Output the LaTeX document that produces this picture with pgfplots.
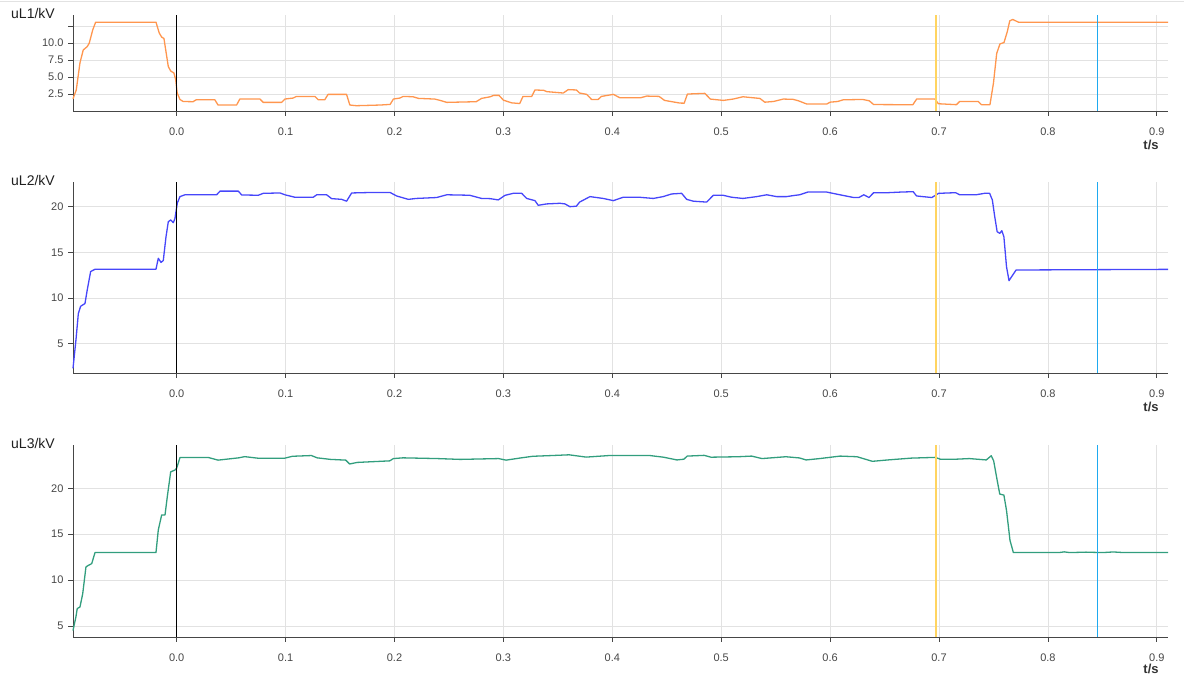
\documentclass[border=0pt]{standalone}
\usepackage{pgfplots}
\pgfplotsset{compat=1.18}
\usepackage{fontspec}
\setmainfont{Liberation Sans}
\definecolor{cOr}{RGB}{255,150,78}
\definecolor{cBl}{RGB}{70,70,250}
\definecolor{cGr}{RGB}{50,158,126}
\definecolor{cYe}{RGB}{255,212,96}
\definecolor{skyline}{RGB}{30,170,240}
\definecolor{cGrid}{RGB}{226,226,226}
\definecolor{cTick}{RGB}{70,70,70}
\pgfplotsset{
 base/.style={
  scale only axis, width=1095pt,
  xmin=-0.0952, xmax=0.9103,
  axis x line=bottom, axis y line=left,
  axis line style={-, color=cTick, line width=0.8pt},
  xtick={0,0.1,0.2,0.3,0.4,0.5,0.6,0.7,0.8,0.9},
  xticklabels={0.0,0.1,0.2,0.3,0.4,0.5,0.6,0.7,0.8,0.9},
  tick align=outside, major tick length=5pt,
  tick style={color=cTick, line width=0.8pt},
  grid=major, grid style={cGrid, line width=0.8pt},
  ticklabel style={font=\fontsize{11}{13}\selectfont, text=cTick},
  xticklabel style={yshift=-8pt},
  yticklabel style={xshift=-1pt},
  /pgf/number format/assume math mode=true,
  clip=false,
 },
}
\tikzset{
 curve/.style={line width=1.3pt, line join=round},
 ttl/.style={font=\fontsize{14}{16}\selectfont, text=black!88},
 tlab/.style={font=\bfseries\fontsize{13}{15}\selectfont, text=black!80},
}
\begin{document}
\begin{tikzpicture}[x=1pt,y=1pt]
\useasboundingbox (0,0) rectangle (1184,679);
\draw[cGrid, line width=0.8pt] (0,678) -- (1184,678);
% ---------------- uL1
\begin{axis}[base, at={(73pt,568pt)}, anchor=south west, height=96pt,
  ymin=0, ymax=14.16, ytick={2.5,5,7.5,10,12.5},
  yticklabels={2.5,5.0,7.5,10.0,}]
\addplot[curve, cOr] coordinates {
(-0.0952,1.8) (-0.0922,3.1) (-0.0888,7.1) (-0.0858,9.0) (-0.0821,9.5) (-0.0803,10.0)
(-0.0771,11.95) (-0.0744,13.1) (-0.0190,13.1) (-0.0160,11.5) (-0.0138,10.9) (-0.0117,10.7)
(-0.0077,6.56) (-0.0055,5.9) (-0.0025,5.6) (-0.0009,4.6) (0.0005,2.65) (0.003,1.7)
(0.006,1.4) (0.015,1.37) (0.018,1.66) (0.035,1.66) (0.038,0.88) (0.055,0.88)
(0.058,1.76) (0.0765,1.76) (0.0795,1.27) (0.0964,1.27) (0.0994,1.76) (0.107,1.91)
(0.110,2.15) (0.127,2.15) (0.130,1.66) (0.136,1.66) (0.139,2.45) (0.156,2.45)
(0.159,0.88) (0.165,0.78) (0.187,0.88) (0.196,0.97) (0.199,1.76) (0.205,1.91)
(0.208,2.15) (0.217,2.1) (0.222,1.86) (0.237,1.76) (0.242,1.56) (0.248,1.27)
(0.275,1.37) (0.280,1.86) (0.288,2.1) (0.291,2.3) (0.296,2.3) (0.300,1.6)
(0.3076,1.2) (0.315,1.1) (0.318,2.15) (0.326,2.15) (0.329,3.1) (0.337,3.05)
(0.340,2.85) (0.355,2.65) (0.3595,3.15) (0.367,3.1) (0.370,2.65) (0.3765,2.45)
(0.381,1.7) (0.387,1.7) (0.390,2.15) (0.401,2.45) (0.407,1.95) (0.426,1.95)
(0.4316,2.2) (0.443,2.15) (0.448,1.56) (0.462,1.17) (0.466,1.15) (0.469,2.5)
(0.485,2.6) (0.490,1.76) (0.502,1.56) (0.511,1.76) (0.520,2.1) (0.5356,1.85)
(0.540,1.3) (0.548,1.4) (0.557,1.76) (0.566,1.72) (0.571,1.5) (0.5785,1.03)
(0.597,1.03) (0.600,1.3) (0.607,1.4) (0.612,1.65) (0.630,1.7) (0.636,1.5)
(0.640,0.95) (0.664,0.93) (0.676,0.93) (0.6795,1.76) (0.6963,1.76) (0.6994,1.07)
(0.716,0.93) (0.719,1.41) (0.736,1.41) (0.739,0.93) (0.7468,0.93) (0.750,4.1)
(0.753,8.5) (0.756,9.9) (0.7597,10.1) (0.7627,11.7) (0.765,13.3) (0.7677,13.5)
(0.773,13.1) (0.9103,13.1)
};
\addplot[black, line width=0.9pt] coordinates {(0,0) (0,14.16)};
\addplot[cYe, line width=1.8pt] coordinates {(0.697,0) (0.697,14.16)};
\addplot[skyline, line width=1.4pt] coordinates {(0.8454,0) (0.8454,14.16)};
\node[ttl] at (rel axis cs:0,1) [xshift=-40pt, yshift=1pt] {uL1/kV};
\node[tlab] at (rel axis cs:0.9845,0) [yshift=-34pt] {t/s};
\end{axis}
% ---------------- uL2
\begin{axis}[base, at={(73pt,306pt)}, anchor=south west, height=191pt,
  ymin=1.8, ymax=22.7, ytick={5,10,15,20}]
\addplot[curve, cBl] coordinates {
(-0.0952,2.3) (-0.0925,5.4) (-0.0903,8.3) (-0.0882,9.1) (-0.0842,9.4) (-0.0821,10.9)
(-0.079,12.9) (-0.075,13.15) (-0.019,13.15) (-0.0169,14.35) (-0.0144,13.9) (-0.0123,14.1)
(-0.0098,16.7) (-0.0077,18.35) (-0.0055,18.55) (-0.0031,18.25) (-0.0016,18.7) (0.0006,20.4)
(0.003,21.1) (0.0076,21.3) (0.0367,21.3) (0.0398,21.7) (0.0566,21.7) (0.0597,21.28)
(0.075,21.25) (0.0795,21.46) (0.0949,21.5) (0.0994,21.3) (0.1086,21.03) (0.1254,21.03)
(0.1286,21.3) (0.1377,21.3) (0.1423,20.88) (0.1515,20.8) (0.156,20.6) (0.1607,21.5)
(0.1775,21.55) (0.196,21.55) (0.202,21.17) (0.2127,20.8) (0.220,20.9) (0.2387,21.0)
(0.248,21.3) (0.269,21.25) (0.280,20.9) (0.2877,20.88) (0.2953,20.74) (0.3015,21.24)
(0.309,21.46) (0.3168,21.46) (0.3214,20.9) (0.329,20.66) (0.332,20.15) (0.3397,20.3)
(0.352,20.37) (0.3566,20.3) (0.361,20.0) (0.367,20.05) (0.370,20.5) (0.3795,21.1)
(0.3917,20.9) (0.401,20.66) (0.410,21.03) (0.425,21.03) (0.4376,20.9) (0.4467,21.1)
(0.4545,21.39) (0.4637,21.46) (0.4683,20.8) (0.4744,20.6) (0.4867,20.5) (0.4927,21.24)
(0.502,21.24) (0.5096,21.03) (0.520,20.9) (0.5326,21.1) (0.5418,21.3) (0.551,21.1)
(0.560,21.1) (0.5678,21.24) (0.572,21.3) (0.5796,21.6) (0.5968,21.6) (0.609,21.3)
(0.6217,21.0) (0.6264,21.0) (0.631,21.3) (0.6357,21.0) (0.640,21.53) (0.653,21.53)
(0.6654,21.6) (0.6763,21.64) (0.6794,21.17) (0.6934,21.0) (0.6997,21.46) (0.7153,21.53)
(0.719,21.3) (0.734,21.3) (0.7418,21.46) (0.7465,21.46) (0.749,20.73) (0.7512,18.9)
(0.7534,17.26) (0.7558,17.08) (0.7577,17.37) (0.7596,16.7) (0.762,13.43) (0.7643,11.9)
(0.7667,12.34) (0.7708,13.07) (0.9103,13.14)
};
\addplot[black, line width=0.9pt] coordinates {(0,1.8) (0,22.7)};
\addplot[cYe, line width=1.8pt] coordinates {(0.697,1.8) (0.697,22.7)};
\addplot[skyline, line width=1.4pt] coordinates {(0.8454,1.8) (0.8454,22.7)};
\node[ttl] at (rel axis cs:0,1) [xshift=-40pt, yshift=1pt] {uL2/kV};
\node[tlab] at (rel axis cs:0.9845,0) [yshift=-34pt] {t/s};
\end{axis}
% ---------------- uL3
\begin{axis}[base, at={(73pt,42pt)}, anchor=south west, height=192pt,
  ymin=3.8, ymax=24.73, ytick={5,10,15,20}]
\addplot[curve, cGr] coordinates {
(-0.0952,4.5) (-0.0925,6.0) (-0.0913,6.9) (-0.0888,7.07) (-0.0863,8.5) (-0.0833,11.44)
(-0.0812,11.6) (-0.078,11.8) (-0.075,13.0) (-0.019,13.0) (-0.0169,15.45) (-0.0138,17.1)
(-0.0107,17.1) (-0.0086,19.1) (-0.0055,21.8) (-0.0016,22.0) (0.0,22.2) (0.003,23.35)
(0.0046,23.37) (0.029,23.37) (0.038,23.08) (0.057,23.33) (0.0624,23.46) (0.0747,23.29)
(0.0992,23.29) (0.1062,23.5) (0.1237,23.58) (0.129,23.33) (0.1413,23.16) (0.1553,23.08)
(0.1588,22.66) (0.1658,22.83) (0.1956,23.0) (0.199,23.25) (0.2078,23.33) (0.2394,23.25)
(0.2604,23.16) (0.2955,23.25) (0.3025,23.08) (0.3165,23.33) (0.327,23.5) (0.3445,23.58)
(0.3603,23.66) (0.376,23.41) (0.397,23.58) (0.4345,23.58) (0.447,23.4) (0.4594,23.1)
(0.4657,23.18) (0.4688,23.52) (0.4844,23.6) (0.4906,23.4) (0.5156,23.45) (0.528,23.52)
(0.5374,23.25) (0.5593,23.45) (0.5718,23.32) (0.578,23.1) (0.5905,23.25) (0.6092,23.52)
(0.6248,23.45) (0.6388,22.95) (0.6529,23.1) (0.6747,23.3) (0.6966,23.38) (0.7012,23.18)
(0.7153,23.18) (0.7278,23.25) (0.7434,23.1) (0.748,23.56) (0.7502,23.0) (0.7534,20.9)
(0.7558,19.38) (0.7596,19.27) (0.762,17.6) (0.7652,14.33) (0.7683,13.0) (0.81,13.0)
(0.815,13.08) (0.82,13.0) (0.835,13.05) (0.85,13.0) (0.86,13.07) (0.87,13.0) (0.9103,13.0)
};
\addplot[black, line width=0.9pt] coordinates {(0,3.8) (0,24.73)};
\addplot[cYe, line width=1.8pt] coordinates {(0.697,3.8) (0.697,24.73)};
\addplot[skyline, line width=1.4pt] coordinates {(0.8454,3.8) (0.8454,24.73)};
\node[ttl] at (rel axis cs:0,1) [xshift=-40pt, yshift=1pt] {uL3/kV};
\node[tlab] at (rel axis cs:0.9845,0) [yshift=-32pt] {t/s};
\end{axis}
\end{tikzpicture}
\end{document}
